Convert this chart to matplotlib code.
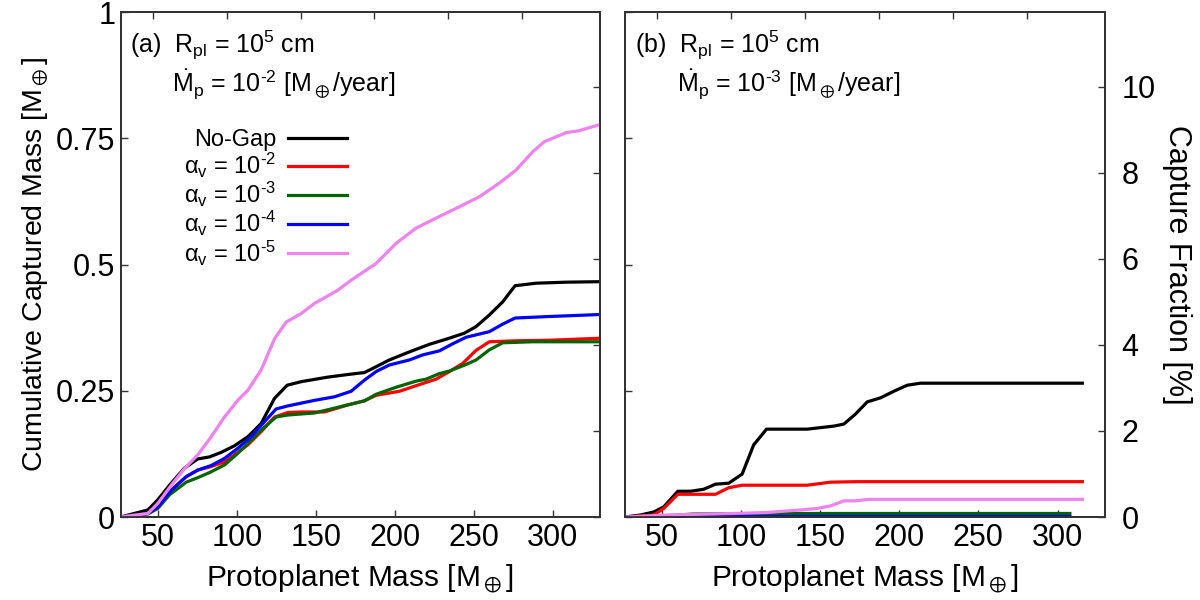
import matplotlib
matplotlib.use("Agg")
import matplotlib.pyplot as plt

plt.rcParams['font.family'] = ['Liberation Sans', 'DejaVu Sans']
plt.rcParams['mathtext.fontset'] = 'custom'
plt.rcParams['mathtext.rm'] = 'Liberation Sans'
plt.rcParams['mathtext.it'] = 'Liberation Sans:italic'
plt.rcParams['mathtext.bf'] = 'Liberation Sans:bold'
plt.rcParams['mathtext.fallback'] = 'stixsans'

# ---------------- data: panel (a) ----------------
a_nogap_x = [26.4, 43.7, 50, 57.4, 66.9, 75.3, 82.7, 90.1, 98.5, 107, 115.4, 123.9, 131.9, 140.8,
             157.6, 172.4, 180.8, 187.2, 196.6, 209.3, 222, 232.5, 244.1, 251.5, 259.9, 268.4,
             276.2, 289.5, 308.5, 330]
a_nogap_y = [0.0, 0.014, 0.034, 0.063, 0.097, 0.115, 0.119, 0.128, 0.141, 0.159, 0.185, 0.235, 0.261,
             0.268, 0.277, 0.283, 0.286, 0.296, 0.311, 0.327, 0.342, 0.352, 0.364, 0.377, 0.400,
             0.426, 0.458, 0.463, 0.465, 0.466]

a_a2_x = [26.4, 43.7, 50, 58.5, 68, 75.3, 82.7, 92.2, 98.5, 107, 115.4, 123.9, 132.3, 140.8, 155.5,
          170.3, 180.8, 188.2, 203, 213.5, 226.2, 234.6, 243, 251.5, 259.9, 276.8, 297.6, 330]
a_a2_y = [0.0, 0.007, 0.024, 0.053, 0.080, 0.093, 0.099, 0.109, 0.123, 0.143, 0.169, 0.198, 0.207,
          0.208, 0.208, 0.222, 0.230, 0.241, 0.249, 0.260, 0.273, 0.288, 0.304, 0.330, 0.347,
          0.349, 0.350, 0.354]

a_a3_x = [26.4, 43.7, 50, 57.4, 68, 75.3, 82.7, 92.2, 100.6, 109.1, 116.5, 124.9, 132.3, 149.2, 170.3,
          180.8, 188.2, 200.9, 213.5, 219.9, 228.3, 234.6, 245.2, 251.5, 259.9, 268.4, 287.3, 330]
a_a3_y = [0.0, 0.006, 0.017, 0.044, 0.069, 0.078, 0.088, 0.103, 0.126, 0.152, 0.175, 0.198, 0.202,
          0.206, 0.222, 0.230, 0.243, 0.257, 0.269, 0.273, 0.284, 0.289, 0.302, 0.311, 0.331,
          0.345, 0.347, 0.347]

a_a4_x = [26.4, 43.7, 50, 58.5, 68, 75.3, 83.8, 92.2, 100.6, 109.1, 116.5, 124.9, 132.3, 149.2, 161.8,
          172.4, 180.8, 188.2, 196.6, 209.3, 217.7, 228.3, 236.7, 245.2, 259.9, 268.4, 276.2, 297.6, 330]
a_a4_y = [0.0, 0.007, 0.020, 0.053, 0.080, 0.093, 0.102, 0.116, 0.136, 0.159, 0.185, 0.214, 0.220,
          0.231, 0.238, 0.249, 0.271, 0.288, 0.301, 0.311, 0.321, 0.329, 0.343, 0.356, 0.367,
          0.382, 0.394, 0.397, 0.401]

a_a5_x = [26.4, 43.7, 50, 58.5, 66.9, 75.3, 83.8, 92.2, 100.6, 107, 115.4, 123.9, 131.3, 140.8, 149.2,
          163.9, 172.4, 188.2, 200.9, 213.5, 226.2, 238.8, 253.5, 266.2, 276.8, 287.3, 294.7, 308.5,
          316.9, 323.2, 330]
a_a5_y = [0.0, 0.007, 0.027, 0.063, 0.096, 0.123, 0.159, 0.198, 0.231, 0.251, 0.291, 0.353, 0.386,
          0.403, 0.423, 0.449, 0.469, 0.502, 0.542, 0.572, 0.592, 0.611, 0.634, 0.661, 0.687,
          0.723, 0.743, 0.761, 0.765, 0.771, 0.777]

# ---------------- data: panel (b) ----------------
b_nogap_x = [26.8, 36.3, 44.7, 51, 59.9, 67.9, 76.3, 83.7, 92.1, 100.6, 107.9, 116, 141.7, 158.5,
             164.9, 172.3, 179.7, 188.1, 196.5, 205, 213.4, 315.7]
b_nogap_y = [0.0, 0.004, 0.010, 0.020, 0.051, 0.051, 0.055, 0.065, 0.067, 0.085, 0.143, 0.174,
             0.174, 0.180, 0.184, 0.204, 0.228, 0.236, 0.249, 0.261, 0.265, 0.265]

b_a2_x = [26.8, 44.7, 51, 59.9, 83.7, 92.1, 100.6, 141.7, 156.4, 173.3, 315.7]
b_a2_y = [0.0, 0.004, 0.017, 0.045, 0.045, 0.058, 0.063, 0.063, 0.069, 0.070, 0.070]

b_a3_x = [26.8, 50, 70, 120, 307.8]
b_a3_y = [0.0, 0.002, 0.006, 0.007, 0.007]

b_a4_x = [26.8, 100, 307.8]
b_a4_y = [0.0, 0.001, 0.001]

b_a5_x = [26.8, 53.2, 95.3, 116.4, 137.5, 148, 156.5, 164.9, 172.3, 180.7, 315.7]
b_a5_y = [0.0, 0.004, 0.007, 0.009, 0.014, 0.017, 0.022, 0.032, 0.032, 0.035, 0.035]

labels = ["No-Gap", "α$_{\\rm v}$ = 10$^{\\text{-2}}$", "α$_{\\rm v}$ = 10$^{\\text{-3}}$",
          "α$_{\\rm v}$ = 10$^{\\text{-4}}$", "α$_{\\rm v}$ = 10$^{\\text{-5}}$"]
colors = ["black", "#ff0000", "#006400", "#0000ff", "#ee82ee"]

x_ticks = [50, 100, 150, 200, 250, 300]
top_ticks = [46.8, 93.6, 140.4, 187.2, 234.0, 280.8]
y_ticks = [0, 0.25, 0.5, 0.75, 1.0]
y_ticklabels = ["0", "0.25", "0.5", "0.75", "1"]
frac_ticks = [0, 2, 4, 6, 8, 10]
frac_ticklabels = ["0", "2", "4", "6", "8", "10"]
xlim = (26.5, 330)
ylim = (0, 1)
frac_lim = (0, 11.74)

series_a = [(a_nogap_x, a_nogap_y), (a_a2_x, a_a2_y), (a_a3_x, a_a3_y), (a_a4_x, a_a4_y), (a_a5_x, a_a5_y)]
series_b = [(b_nogap_x, b_nogap_y), (b_a2_x, b_a2_y), (b_a3_x, b_a3_y), (b_a4_x, b_a4_y), (b_a5_x, b_a5_y)]

fig = plt.figure(figsize=(12, 6), dpi=100)
ax1 = fig.add_axes([0.1006, 0.1383, 0.3994, 0.8417])
ax2 = fig.add_axes([0.5208, 0.1383, 0.4000, 0.8417])

spine_col = "#333333"
tick_fs = 22

def style(ax, left_labels, right_labels):
    ax.set_xlim(*xlim)
    ax.set_ylim(*ylim)
    ax.set_xticks(x_ticks)
    ax.set_xticklabels([str(t) for t in x_ticks])
    ax.set_yticks(y_ticks)
    if left_labels:
        ax.set_yticklabels(y_ticklabels)
    else:
        ax.set_yticklabels([])
    ax.tick_params(direction='in', length=5, width=1, colors=spine_col, labelcolor='black',
                   labelsize=tick_fs, pad=4)
    for s in ax.spines.values():
        s.set_color(spine_col)
        s.set_linewidth(1.3)
    axr = ax.twinx()
    axr.set_ylim(*frac_lim)
    axr.set_yticks(frac_ticks)
    if right_labels:
        axr.set_yticklabels(frac_ticklabels)
    else:
        axr.set_yticklabels([])
    axr.tick_params(direction='in', length=5, width=1, colors=spine_col, labelcolor='black',
                    labelsize=tick_fs, pad=12)
    axt = ax.twiny()
    axt.set_xlim(*xlim)
    axt.set_xticks(top_ticks)
    axt.set_xticklabels([])
    axt.tick_params(direction='in', length=5, width=1, colors=spine_col)
    for a in (axr, axt):
        for s in a.spines.values():
            s.set_color(spine_col)
            s.set_linewidth(1.3)
    ax.set_zorder(axt.get_zorder() + 1)
    ax.patch.set_visible(False)
    return axr

for (x, y), c, l in zip(series_a, colors, labels):
    ax1.plot(x, y, color=c, lw=2.3, label=l, solid_joinstyle='round')
for (x, y), c, l in zip(series_b, colors, labels):
    ax2.plot(x, y, color=c, lw=2.3, label=l, solid_joinstyle='round')

axr1 = style(ax1, True, False)
axr2 = style(ax2, False, True)

ax1.set_xlabel("Protoplanet Mass [M$_\\oplus$]", fontsize=21.5, labelpad=7)
ax2.set_xlabel("Protoplanet Mass [M$_\\oplus$]", fontsize=21.5, labelpad=7)
ax1.set_ylabel("Cumulative Captured Mass [M$_\\oplus$]", fontsize=20.5, labelpad=4)
axr2.set_ylabel("Capture Fraction [%]", fontsize=22, rotation=270, labelpad=26)

ann_fs = 18
ax1.text(0.02, 0.919, "(a)  R$_{\\rm pl}$ = 10$^5$ cm", transform=ax1.transAxes, fontsize=ann_fs, va='baseline')
ax1.text(0.108, 0.842, "$\\dot{\\rm M}_{\\rm p}$ = 10$^{\\text{-2}}$ [M$_\\oplus$/year]", transform=ax1.transAxes,
         fontsize=ann_fs, va='baseline')
ax2.text(0.02, 0.919, "(b)  R$_{\\rm pl}$ = 10$^5$ cm", transform=ax2.transAxes, fontsize=ann_fs, va='baseline')
ax2.text(0.108, 0.842, "$\\dot{\\rm M}_{\\rm p}$ = 10$^{\\text{-3}}$ [M$_\\oplus$/year]", transform=ax2.transAxes,
         fontsize=ann_fs, va='baseline')

leg = ax1.legend(loc='upper right', bbox_to_anchor=(0.472, 0.768), frameon=False, fontsize=17,
                 markerfirst=False, handlelength=2.5, handletextpad=0.5, labelspacing=0.0,
                 borderpad=0, borderaxespad=0)

fig.savefig("out.png", dpi=100)
